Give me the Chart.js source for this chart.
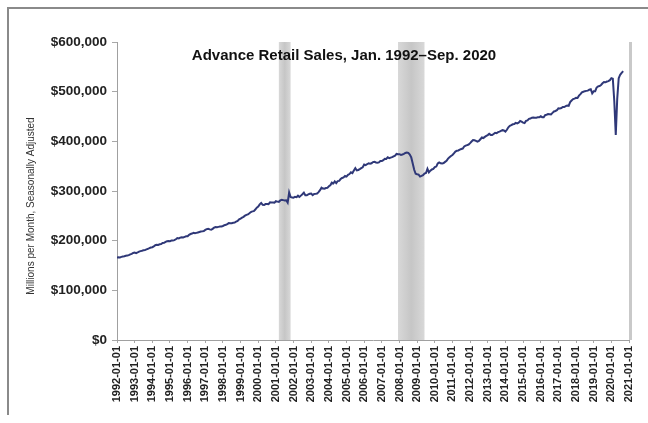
<!DOCTYPE html>
<html>
<head>
<meta charset="utf-8">
<title>Advance Retail Sales</title>
<script src="https://cdn.jsdelivr.net/npm/chart.js@4.4.1/dist/chart.umd.min.js"></script>
<style>
  html, body { margin: 0; padding: 0; background: #fff; }
  #wrap { position: relative; width: 648px; height: 423px; overflow: hidden; }
  #frame {
    position: absolute; left: 7px; top: 7px; width: 660px; height: 406px;
    border-top: 2px solid #8a8a8a; border-left: 2px solid #8a8a8a;
  }
  canvas { position: absolute; left: 0; top: 0; }
</style>
</head>
<body>
<div id="wrap">
  <div id="frame"></div>
  <canvas id="salesChart" width="648" height="423"></canvas>
</div>
<script>
// Monthly advance retail sales, millions of dollars, seasonally adjusted (Jan 1992 - Sep 2020)
const startYear = 1992;
const retailSales = [
  166000, 166400, 166200, 167300, 168100, 168600, 169600, 169900, 170900, 172500, 173400, 175300, // 1992
  176000, 174900, 176200, 178100, 179000, 179700, 180500, 180900, 182300, 183600, 184900, 186300, // 1993
  186900, 188400, 190800, 191700, 191500, 192800, 193300, 195400, 195800, 197700, 198900, 199100, // 1994
  199000, 200300, 200200, 201000, 202800, 205100, 204500, 206200, 207000, 206600, 207700, 208800, // 1995
  209000, 211900, 213400, 214300, 215800, 214800, 215700, 216600, 217500, 218400, 218700, 219300, // 1996
  221600, 223200, 224000, 222700, 222200, 223800, 226200, 227300, 227100, 227800, 228400, 228700, // 1997
  229600, 231100, 232000, 233300, 235300, 235100, 235000, 236100, 236400, 238600, 239900, 243000, // 1998
  244500, 246400, 248000, 250300, 252000, 253000, 255200, 257700, 259000, 259400, 262700, 266400, // 1999
  268600, 273100, 275900, 272100, 272000, 273700, 273900, 273600, 277100, 276700, 276800, 276600, // 2000
  279500, 278600, 278200, 281000, 282200, 281600, 280900, 281400, 276600, 297000, 287800, 286700, // 2001
  286600, 288400, 287700, 290600, 288000, 290700, 293500, 296700, 291300, 291300, 293200, 294500, // 2002
  294900, 291600, 294000, 294200, 295000, 297600, 301700, 306800, 305000, 304500, 306000, 306300, // 2003
  309600, 311600, 316800, 315200, 319500, 316000, 320000, 320400, 324000, 326300, 327400, 330400, // 2004
  329000, 332400, 334100, 337600, 336000, 341100, 346000, 341400, 342300, 344000, 346100, 347800, // 2005
  353400, 352200, 353900, 355700, 354800, 355800, 358200, 359000, 357400, 356900, 357600, 360400, // 2006
  360300, 362200, 365000, 364600, 367700, 366000, 367200, 368100, 369800, 371300, 374600, 374100, // 2007
  374200, 372800, 373600, 374800, 376600, 377600, 376900, 373500, 367600, 355400, 342800, 334600, // 2008
  333600, 333000, 329100, 330400, 331900, 335100, 336300, 344700, 337400, 340900, 343300, 344500, // 2009
  348000, 349200, 355400, 357600, 355800, 355200, 356300, 358600, 360800, 365200, 367900, 370400, // 2010
  372500, 375900, 379300, 381200, 381700, 383300, 384600, 385500, 389600, 391300, 392500, 393600, // 2011
  396300, 399700, 402500, 402200, 401000, 399400, 400700, 404200, 407700, 406600, 409000, 411000, // 2012
  412500, 415100, 413000, 413000, 414800, 417300, 416400, 418600, 419600, 421100, 422500, 421800, // 2013
  419400, 423300, 428300, 431200, 432500, 434300, 434800, 437200, 436200, 437600, 440900, 439500, // 2014
  437600, 436700, 441200, 442100, 445200, 445900, 447600, 447900, 447600, 447700, 448300, 448500, // 2015
  450400, 448600, 448500, 452800, 453600, 455000, 454700, 454300, 457300, 460200, 461100, 462600, // 2016
  466500, 466200, 467000, 469300, 469000, 470700, 472200, 471600, 479000, 482300, 485000, 486000, // 2017
  487500, 487400, 492000, 495000, 498800, 499900, 501000, 501600, 502100, 504000, 504800, 496500, // 2018
  500700, 500900, 508300, 510600, 511400, 513400, 516800, 519300, 518900, 520400, 521300, 523200, // 2019
  527100, 525900, 480800, 412600, 485900, 527000, 534100, 537600, 541500                          // 2020
];

const xTickLabels = [
  '1992-01-01', '1993-01-01', '1994-01-01', '1995-01-01', '1996-01-01', '1997-01-01',
  '1998-01-01', '1999-01-01', '2000-01-01', '2001-01-01', '2002-01-01', '2003-01-01',
  '2004-01-01', '2005-01-01', '2006-01-01', '2007-01-01', '2008-01-01', '2009-01-01',
  '2010-01-01', '2011-01-01', '2012-01-01', '2013-01-01', '2014-01-01', '2015-01-01',
  '2016-01-01', '2017-01-01', '2018-01-01', '2019-01-01', '2020-01-01', '2021-01-01'
];

// recession shading, first and last month of each
const recessionStart = ['2001-03', '2007-12'];
const recessionEnd = ['2001-11', '2009-06'];

const chartTitle = 'Advance Retail Sales, Jan. 1992\u2013Sep. 2020';
const yAxisTitle = 'Millions per Month, Seasonally Adjusted';

const fontFamily = '"Liberation Sans", Arial, sans-serif';

function monthToYear(str) {
  const [y, m] = str.split('-').map(Number);
  return y + (m - 1) / 12;
}

const points = retailSales.map((v, i) => ({ x: startYear + i / 12, y: v }));

// gray bars for recessions + the light right edge of the plot
const recessionBands = {
  id: 'recessionBands',
  beforeDatasetsDraw(chart) {
    const { ctx, chartArea } = chart;
    const xs = chart.scales.x;
    ctx.save();
    for (let i = 0; i < recessionStart.length; i++) {
      const x0 = xs.getPixelForValue(monthToYear(recessionStart[i]));
      const x1 = xs.getPixelForValue(monthToYear(recessionEnd[i]));
      const grad = ctx.createLinearGradient(x0, 0, x1, 0);
      grad.addColorStop(0, '#d8d8d8');
      grad.addColorStop(0.5, '#c6c6c6');
      grad.addColorStop(1, '#d8d8d8');
      ctx.fillStyle = grad;
      ctx.fillRect(x0, chartArea.top, x1 - x0, chartArea.bottom - chartArea.top);
    }
    ctx.strokeStyle = '#c9c9c9';
    ctx.lineWidth = 3;
    ctx.beginPath();
    ctx.moveTo(chartArea.right + 1.5, chartArea.top);
    ctx.lineTo(chartArea.right + 1.5, chartArea.bottom);
    ctx.stroke();
    ctx.restore();
  }
};

const chartLabels = {
  id: 'chartLabels',
  afterDraw(chart) {
    const { ctx } = chart;
    ctx.save();
    ctx.fillStyle = '#111';
    ctx.font = 'bold 15px ' + fontFamily;
    ctx.textAlign = 'center';
    ctx.textBaseline = 'middle';
    ctx.fillText(chartTitle, 344, 56);

    ctx.translate(31, 206);
    ctx.rotate(-Math.PI / 2);
    ctx.fillStyle = '#333';
    ctx.font = '10px ' + fontFamily;
    ctx.fillText(yAxisTitle, 0, 0);
    ctx.restore();
  }
};

const ctx = document.getElementById('salesChart').getContext('2d');
new Chart(ctx, {
  type: 'line',
  data: {
    datasets: [{
      data: points,
      borderColor: '#2f3878',
      borderWidth: 2,
      pointRadius: 0,
      tension: 0,
      fill: false
    }]
  },
  options: {
    responsive: false,
    animation: false,
    layout: { padding: { left: 0, right: 19, top: 42, bottom: 0 } },
    plugins: {
      legend: { display: false },
      tooltip: { enabled: false }
    },
    scales: {
      x: {
        type: 'linear',
        min: 1992,
        max: 2021,
        afterFit(scale) { scale.height = 83; },
        ticks: {
          stepSize: 1,
          autoSkip: false,
          maxRotation: 90,
          minRotation: 90,
          padding: 3,
          color: '#222',
          font: { family: fontFamily, size: 11, weight: 'bold' },
          callback: (v) => xTickLabels[Math.round(v) - startYear]
        },
        grid: { drawOnChartArea: false, tickLength: 3, color: '#a8a8a8' },
        border: { color: '#a0a0a0', width: 1 }
      },
      y: {
        min: 0,
        max: 600000,
        afterFit(scale) { scale.width = 117; },
        ticks: {
          stepSize: 100000,
          padding: 5,
          color: '#222',
          font: { family: fontFamily, size: 13.5, weight: 'bold' },
          callback: (v) => '$' + v.toLocaleString('en-US')
        },
        grid: { drawOnChartArea: false, tickLength: 5, color: '#a8a8a8' },
        border: { color: '#a0a0a0', width: 1 }
      }
    }
  },
  plugins: [recessionBands, chartLabels]
});
</script>
</body>
</html>
